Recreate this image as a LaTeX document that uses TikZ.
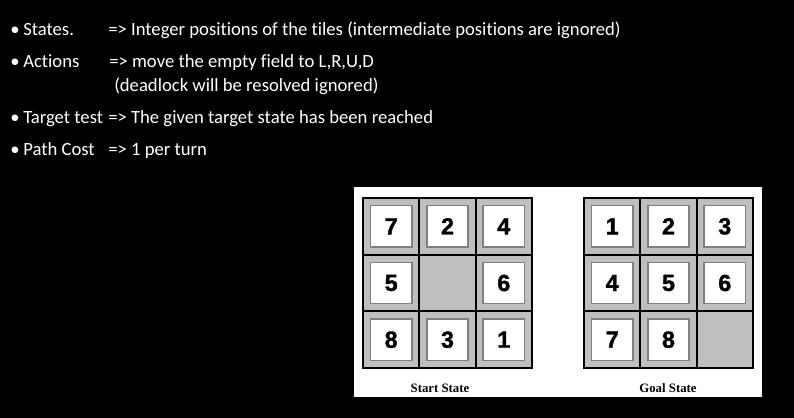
\documentclass[tikz,border=0pt]{standalone}
\usepackage{fontspec}
\setmainfont{Carlito}[Ligatures=NoCommon]
\newfontfamily\tilefont{Liberation Sans}[UprightFont={* Bold}, FakeBold=1.5]
\newfontfamily\capfont{Liberation Serif}
\tikzset{
  item/.style={anchor=base west, inner sep=0pt, text=white, font=\fontsize{14}{16}\selectfont},
  cell/.style={fill=black!25, draw=black, line width=1.5pt},
  tile/.style={draw=black!50, line width=1.1pt, fill=white, minimum size=31pt, inner sep=0pt,
    font=\tilefont\fontsize{17.5}{18}\bfseries},
  caption/.style={anchor=base, inner sep=0pt, font=\capfont\fontsize{9.6}{11}\bfseries\selectfont}
}
\begin{document}
\begin{tikzpicture}[x=0.75pt, y=-0.75pt]
% background
\fill [black] (0,0) rectangle (794,418);
\useasboundingbox (0,0) rectangle (794,418);

% Bullet list
\node [item] (b1) at (10,35) {•};
\node [item] (states) at (23,35) {States.};
\node [item] (statesdef) at (108,35) {=> Integer positions of the tiles (intermediate positions are ignored)};
\node [item] (b2) at (10,67) {•};
\node [item] (actions) at (23,67) {Actions};
\node [item] (actionsdef) at (109,67) {=> move the empty field to L,R,U,D};
\node [item] (actionsnote) at (114,91) {(deadlock will be resolved ignored)};
\node [item] (b3) at (10,123) {•};
\node [item] (target) at (23,123) {Target test};
\node [item] (targetdef) at (108,123) {=> The given target state has been reached};
\node [item] (b4) at (10,155) {•};
\node [item] (cost) at (23,155) {Path Cost};
\node [item] (costdef) at (108,155) {=> 1 per turn};

% White panel
\fill [white] (354,187) rectangle (762,397);

% Drawing start grid
\draw [cell] (363,198) rectangle (532,368);
\draw [line width=1.5pt] (419.3,198) -- (419.3,368);
\draw [line width=1.5pt] (475.7,198) -- (475.7,368);
\draw [line width=1.5pt] (363,254.7) -- (532,254.7);
\draw [line width=1.5pt] (363,311.3) -- (532,311.3);

% Tiles of start state
\node [tile] (st7) at (391.2,226.3) {7};
\node [tile] (st2) at (447.5,226.3) {2};
\node [tile] (st4) at (503.8,226.3) {4};
\node [tile] (st5) at (391.2,283) {5};
\node [tile] (st6) at (503.8,283) {6};
\node [tile] (st8) at (391.2,339.7) {8};
\node [tile] (st3) at (447.5,339.7) {3};
\node [tile] (st1) at (503.8,339.7) {1};
\node [caption] (startlabel) at (440,392) {Start State};

% Drawing goal grid
\draw [cell] (584,198) rectangle (753,368);
\draw [line width=1.5pt] (640.3,198) -- (640.3,368);
\draw [line width=1.5pt] (696.7,198) -- (696.7,368);
\draw [line width=1.5pt] (584,254.7) -- (753,254.7);
\draw [line width=1.5pt] (584,311.3) -- (753,311.3);

% Tiles of goal state
\node [tile] (gt1) at (612.2,226.3) {1};
\node [tile] (gt2) at (668.5,226.3) {2};
\node [tile] (gt3) at (724.8,226.3) {3};
\node [tile] (gt4) at (612.2,283) {4};
\node [tile] (gt5) at (668.5,283) {5};
\node [tile] (gt6) at (724.8,283) {6};
\node [tile] (gt7) at (612.2,339.7) {7};
\node [tile] (gt8) at (668.5,339.7) {8};
\node [caption] (goallabel) at (668,392) {Goal State};
\end{tikzpicture}
\end{document}
